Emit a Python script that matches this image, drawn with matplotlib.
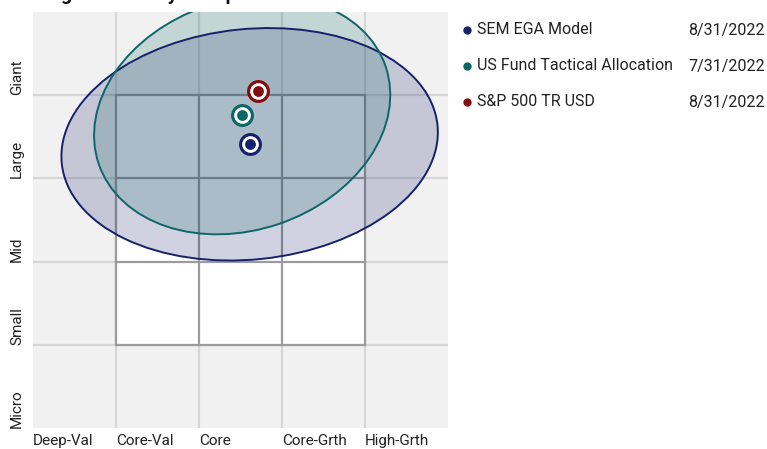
import matplotlib
matplotlib.use('Agg')
import matplotlib.pyplot as plt
from matplotlib.patches import Ellipse, Rectangle

# --- datos ---
estilo_x = ['Deep-Val', 'Core-Val', 'Core', 'Core-Grth', 'High-Grth']
tamano_y = ['Micro', 'Small', 'Mid', 'Large', 'Giant']

nombres = ['SEM EGA Model', 'US Fund Tactical Allocation', 'S&P 500 TR USD']
fechas = ['8/31/2022', '7/31/2022', '8/31/2022']
centro_x = [2.61, 2.52, 2.71]
centro_y = [3.41, 3.76, 4.05]
zona_ancho = [4.55, 3.65, None]
zona_alto = [2.77, 2.76, None]
zona_angulo = [5.8, 18.7, None]
colores = ['#15216b', '#0d6667', '#850c0c']

plt.rcParams['font.family'] = ['Roboto', 'DejaVu Sans']

fig = plt.figure(figsize=(7.67, 4.49), dpi=100)
W, H = 767, 449
ax = fig.add_axes([33 / W, 21 / H, 415 / W, 416 / H])
ax.set_xlim(0, 5)
ax.set_ylim(0, 5)
ax.set_facecolor('#f1f1f1')
for s in ax.spines.values():
    s.set_visible(False)
ax.set_xticks([])
ax.set_yticks([])

# rejilla exterior
for i in range(1, 5):
    ax.axvline(i, color='#d6d6d6', lw=1.6, zorder=1)
    ax.axhline(i, color='#d6d6d6', lw=1.6, zorder=1)

# caja de estilo 3x3
ax.add_patch(Rectangle((1, 1), 3, 3, facecolor='white', edgecolor='none', zorder=2))
for i in range(1, 5):
    ax.plot([i, i], [1, 4], color='#9b9b9b', lw=1.6, zorder=3, solid_capstyle='projecting')
    ax.plot([1, 4], [i, i], color='#9b9b9b', lw=1.6, zorder=3, solid_capstyle='projecting')

# zonas de propiedad
for k in range(len(nombres)):
    if zona_ancho[k] is None:
        continue
    ax.add_patch(Ellipse((centro_x[k], centro_y[k]), zona_ancho[k], zona_alto[k],
                         angle=zona_angulo[k], facecolor=colores[k], alpha=0.2,
                         edgecolor='none', zorder=4))
    ax.add_patch(Ellipse((centro_x[k], centro_y[k]), zona_ancho[k], zona_alto[k],
                         angle=zona_angulo[k], facecolor='none',
                         edgecolor=colores[k], lw=1.4, zorder=5))

# centroides
for k in range(len(nombres)):
    ax.plot(centro_x[k], centro_y[k], 'o', ms=16.5, color=colores[k], mec='none', zorder=6)
    ax.plot(centro_x[k], centro_y[k], 'o', ms=12.0, color='white', mec='none', zorder=7)
    ax.plot(centro_x[k], centro_y[k], 'o', ms=7.8, color=colores[k], mec='none', zorder=8)

# etiquetas
for i, t in enumerate(estilo_x):
    ax.text(i, -13 / 416, t, transform=ax.get_xaxis_transform(), ha='left', va='center',
            fontsize=11, color='#222222', clip_on=False)
for i, t in enumerate(tamano_y):
    ax.text(-16 / 415, i, t, transform=ax.get_yaxis_transform(), rotation=90,
            ha='center', va='bottom', fontsize=11, color='#222222', clip_on=False)

# titulo (cortado arriba)
fig.text(4 / W, 1 + 0.5 / H, 'Holdings-Based Style Map', ha='left', va='baseline',
         fontsize=14, fontweight='bold', color='#111111')

# leyenda
leg = fig.add_axes([0, 0, 1, 1], facecolor='none')
leg.set_xlim(0, W)
leg.set_ylim(H, 0)
leg.axis('off')
for k in range(len(nombres)):
    yk = 30 + 36 * k
    leg.plot(467, yk, 'o', ms=6, color=colores[k], mec='none')
    leg.text(477, yk, nombres[k], ha='left', va='center', fontsize=11.5, color='#222222')
    leg.text(765, yk, fechas[k], ha='right', va='center', fontsize=11.5, color='#222222')

fig.savefig('out.png', dpi=100)
